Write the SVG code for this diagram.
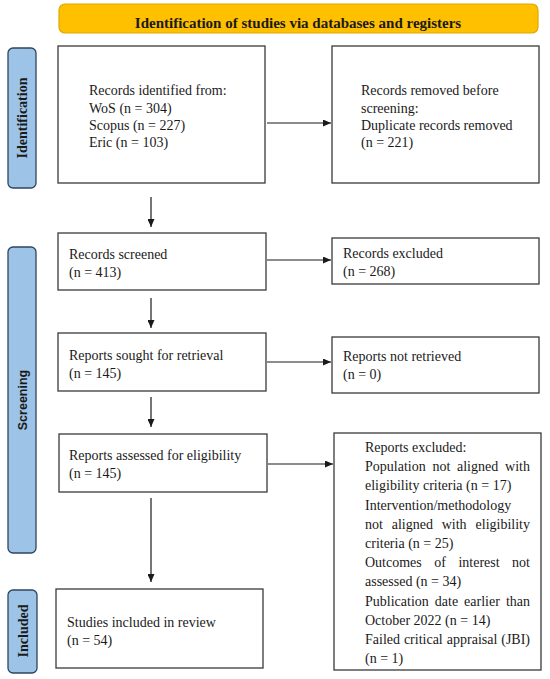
<svg xmlns="http://www.w3.org/2000/svg" width="550" height="679" viewBox="0 0 550 679">
<defs>
<marker id="ah" viewBox="0 0 8 7" refX="8" refY="3.5" markerWidth="8" markerHeight="7" markerUnits="userSpaceOnUse" orient="auto">
<path d="M0,0 L8,3.5 L0,7 z" fill="#1a1a1a"/>
</marker>
<style>
.box{fill:#ffffff;stroke:#3a3a3a;stroke-width:1.3}
.side{fill:#9DC3E6;stroke:#2E4560;stroke-width:1.3}
.t{font-family:"Liberation Serif","Times New Roman",serif;font-size:14px;fill:#1a1a1a}
.sl{font-family:"Liberation Serif","Times New Roman",serif;font-size:14px;font-weight:bold;fill:#1a1a1a;text-anchor:middle}
.ss{font-family:"Liberation Sans",Arial,sans-serif;font-size:12.5px;font-weight:bold;fill:#1a1a1a;text-anchor:middle}
.e{text-anchor:end}
.c{stroke:#1a1a1a;stroke-width:1.2;fill:none;marker-end:url(#ah)}
</style>
</defs>
<rect width="550" height="679" fill="#ffffff"/>

<g id="header">
<rect x="59" y="4" width="479" height="29" rx="6" fill="#FFC000" stroke="#E0A800" stroke-width="1.2"/>
<text x="298" y="28" font-family="Liberation Serif,Times New Roman,serif" font-size="15" font-weight="bold" fill="#1a1a1a" text-anchor="middle">Identification of studies via databases and registers</text>
</g>

<g id="phase-identification">
<rect class="side" x="8" y="48" width="28" height="140" rx="5"/>
<text class="sl" transform="translate(27,118) rotate(-90)">Identification</text>
</g>
<g id="phase-screening">
<rect class="side" x="8" y="247" width="28" height="306" rx="5"/>
<text class="ss" transform="translate(26.5,400) rotate(-90)">Screening</text>
</g>
<g id="phase-included">
<rect class="side" x="8" y="590" width="29" height="83" rx="5"/>
<text class="sl" transform="translate(27.5,631) rotate(-90)">Included</text>
</g>

<g id="records-identified">
<rect class="box" x="58" y="46" width="207" height="137"/>
<text class="t" x="89" y="95">Records identified from:</text>
<text class="t" x="89" y="113">WoS (n = 304)</text>
<text class="t" x="89" y="130">Scopus (n = 227)</text>
<text class="t" x="89" y="147">Eric (n = 103)</text>
</g>

<g id="records-removed">
<rect class="box" x="332" y="46" width="207" height="137"/>
<text class="t" x="361" y="95">Records removed before</text>
<text class="t" x="361" y="113">screening:</text>
<text class="t" x="361" y="130">Duplicate records removed</text>
<text class="t" x="361" y="147">(n = 221)</text>
</g>

<g id="records-screened">
<rect class="box" x="58" y="233" width="208" height="57"/>
<text class="t" x="69" y="259">Records screened</text>
<text class="t" x="69" y="277">(n = 413)</text>
</g>

<g id="records-excluded">
<rect class="box" x="332" y="238" width="207" height="46"/>
<text class="t" x="343" y="258">Records excluded</text>
<text class="t" x="343" y="276">(n = 268)</text>
</g>

<g id="reports-sought">
<rect class="box" x="58" y="333" width="208" height="58"/>
<text class="t" x="69" y="360">Reports sought for retrieval</text>
<text class="t" x="69" y="378">(n = 145)</text>
</g>

<g id="reports-not-retrieved">
<rect class="box" x="332" y="337" width="207" height="56"/>
<text class="t" x="343" y="361">Reports not retrieved</text>
<text class="t" x="343" y="379">(n = 0)</text>
</g>

<g id="reports-assessed">
<rect class="box" x="59" y="434" width="208" height="58"/>
<text class="t" x="69" y="460">Reports assessed for eligibility</text>
<text class="t" x="69" y="478">(n = 145)</text>
</g>

<g id="reports-excluded">
<rect class="box" x="334" y="433" width="207" height="237"/>
<text class="t" x="365" y="452">Reports excluded:</text>
<text class="t" x="365" y="471.2">Population</text>
<text class="t" x="432.5" y="471.2">not</text>
<text class="t" x="457" y="471.2">aligned</text>
<text class="t e" x="530" y="471.2">with</text>
<text class="t" x="365" y="490.4">eligibility criteria (n = 17)</text>
<text class="t" x="365" y="509.6">Intervention/methodology</text>
<text class="t" x="365" y="528.8">not</text>
<text class="t" x="391.7" y="528.8">aligned</text>
<text class="t" x="441.7" y="528.8">with</text>
<text class="t e" x="530" y="528.8">eligibility</text>
<text class="t" x="365" y="548">criteria (n = 25)</text>
<text class="t" x="365" y="567.2">Outcomes</text>
<text class="t" x="434.3" y="567.2">of</text>
<text class="t" x="458.4" y="567.2">interest</text>
<text class="t e" x="530" y="567.2">not</text>
<text class="t" x="365" y="586.4">assessed (n = 34)</text>
<text class="t" x="365" y="605.6">Publication</text>
<text class="t" x="434.8" y="605.6">date</text>
<text class="t" x="464.1" y="605.6">earlier</text>
<text class="t e" x="530" y="605.6">than</text>
<text class="t" x="365" y="624.8">October 2022 (n = 14)</text>
<text class="t" x="365" y="644">Failed</text>
<text class="t" x="403.9" y="644">critical</text>
<text class="t" x="446.8" y="644">appraisal</text>
<text class="t e" x="530" y="644">(JBI)</text>
<text class="t" x="365" y="663.2">(n = 1)</text>
</g>

<g id="studies-included">
<rect class="box" x="56" y="589" width="207" height="79"/>
<text class="t" x="67" y="627">Studies included in review</text>
<text class="t" x="67" y="645">(n = 54)</text>
</g>

<g id="connectors">
<line class="c" x1="267" y1="123" x2="331" y2="123"/>
<line class="c" x1="151" y1="197" x2="151" y2="227"/>
<line class="c" x1="267" y1="260" x2="331" y2="260"/>
<line class="c" x1="151" y1="298" x2="151" y2="328"/>
<line class="c" x1="267" y1="362" x2="331" y2="362"/>
<line class="c" x1="151" y1="397" x2="151" y2="427"/>
<line class="c" x1="268" y1="464" x2="333" y2="464"/>
<line class="c" x1="151" y1="498" x2="151" y2="582"/>
</g>
</svg>
